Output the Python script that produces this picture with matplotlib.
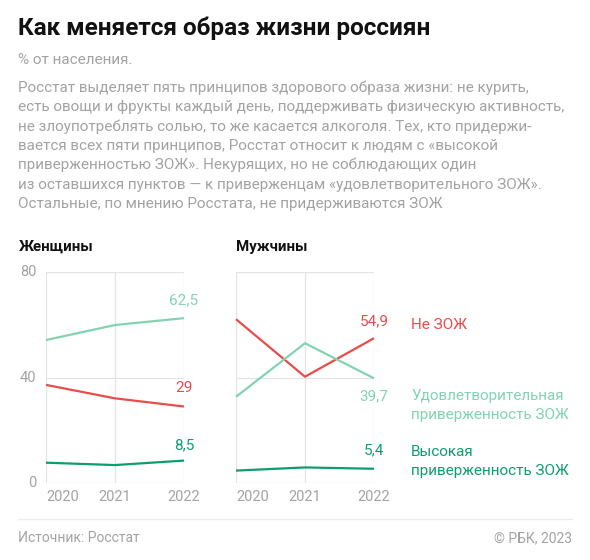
import matplotlib
matplotlib.use("Agg")
import matplotlib.pyplot as plt

plt.rcParams["font.family"] = ["Roboto", "DejaVu Sans"]

W, H = 590, 560

years = [2020, 2021, 2022]
year_labels = ["2020", "2021", "2022"]
yticks = [0, 40, 80]

women_not = [37.2, 32.1, 29.0]
women_satisf = [54.2, 59.9, 62.5]
women_high = [7.7, 6.8, 8.5]

men_not = [62.1, 40.3, 54.9]
men_satisf = [32.7, 53.0, 39.7]
men_high = [4.7, 5.9, 5.4]

women_last = ["29", "62,5", "8,5"]
men_last = ["54,9", "39,7", "5,4"]

RED = "#ea4b4b"
MINT = "#82d3b2"
GREEN = "#0c9f6c"
GRID = "#e4e4e4"
GREY = "#a3a3a3"

title = "Как меняется образ жизни россиян"
subtitle = "% от населения."
body = [
    "Росстат выделяет пять принципов здорового образа жизни: не курить,",
    "есть овощи и фрукты каждый день, поддерживать физическую активность,",
    "не злоупотреблять солью, то же касается алкоголя. Тех, кто придержи-",
    "вается всех пяти принципов, Росстат относит к людям с «высокой",
    "приверженностью ЗОЖ». Некурящих, но не соблюдающих один",
    "из оставшихся пунктов — к приверженцам «удовлетворительного ЗОЖ».",
    "Остальные, по мнению Росстата, не придерживаются ЗОЖ",
]
legend = [("Не ЗОЖ", RED, [325]),
          ("Удовлетворительная\nприверженность ЗОЖ", MINT, [396, 415]),
          ("Высокая\nприверженность ЗОЖ", GREEN, [452, 471])]


def fx(x):
    return x / W


def fy(y):
    return 1 - y / H


fig = plt.figure(figsize=(W / 100, H / 100), dpi=100)
fig.patch.set_facecolor("white")

fig.text(fx(18), fy(28), title, fontsize=17.45, fontweight="bold", color="#111111", va="center")
fig.text(fx(18), fy(60), subtitle, fontsize=11, color=GREY, va="center")
for i, line in enumerate(body):
    fig.text(fx(18), fy(88 + i * 19.3), line, fontsize=11, color=GREY, va="center")


def panel(left, name, ylabels, series, last, offsets):
    ax = fig.add_axes([fx(left), fy(483), 138 / W, 211 / H])
    ax.set_xlim(2020, 2022)
    ax.set_ylim(0, 80)
    for s in ax.spines.values():
        s.set_visible(False)
    for yv in yticks:
        ax.axhline(yv, color=GRID, lw=0.9, zorder=0)
    for xv in years:
        ax.axvline(xv, color=GRID, lw=0.9, zorder=0)
    ax.set_xticks([])
    ax.set_yticks([])
    for xv, lab in zip(years, year_labels):
        ax.annotate(lab, (xv, 0), xytext=(0, -10), textcoords="offset points",
                    ha="left" if xv == years[0] else "center", va="center",
                    fontsize=10.5, color=GREY, annotation_clip=False)
    if ylabels:
        for yv in yticks:
            ax.annotate(str(yv), (2020, yv), xytext=(-7, 0), textcoords="offset points",
                        ha="right", va="center", fontsize=10.5, color=GREY,
                        annotation_clip=False)
    for (vals, col), lab, off in zip(series, last, offsets):
        ax.plot(years, vals, color=col, lw=1.6, solid_capstyle="butt", clip_on=False)
        ax.annotate(lab, (years[-1], vals[-1]), xytext=(0, off), textcoords="offset points",
                    ha="center", va="center", fontsize=11, color=col,
                    annotation_clip=False)
    fig.text(fx(left - 27 if ylabels else left), fy(247), name, fontsize=10.8,
             fontweight="bold", color="#111111", va="center")
    return ax


panel(46, "Женщины", True,
      [(women_not, RED), (women_satisf, MINT), (women_high, GREEN)],
      women_last, [13, 13, 11])
panel(236, "Мужчины", False,
      [(men_not, RED), (men_satisf, MINT), (men_high, GREEN)],
      men_last, [12, -13, 13])

for text, col, ys in legend:
    for t, y in zip(text.split("\n"), ys):
        fig.text(fx(411), fy(y), t, fontsize=11, color=col, va="center")

fig.add_artist(plt.Line2D([fx(18), fx(572)], [fy(519), fy(519)], color="#ececec", lw=1))
fig.text(fx(18), fy(538), "Источник: Росстат", fontsize=10, color=GREY, va="center")
fig.text(fx(572), fy(538), "© РБК, 2023", fontsize=10, color=GREY, va="center", ha="right")

fig.savefig("out.png", dpi=100, facecolor="white")
